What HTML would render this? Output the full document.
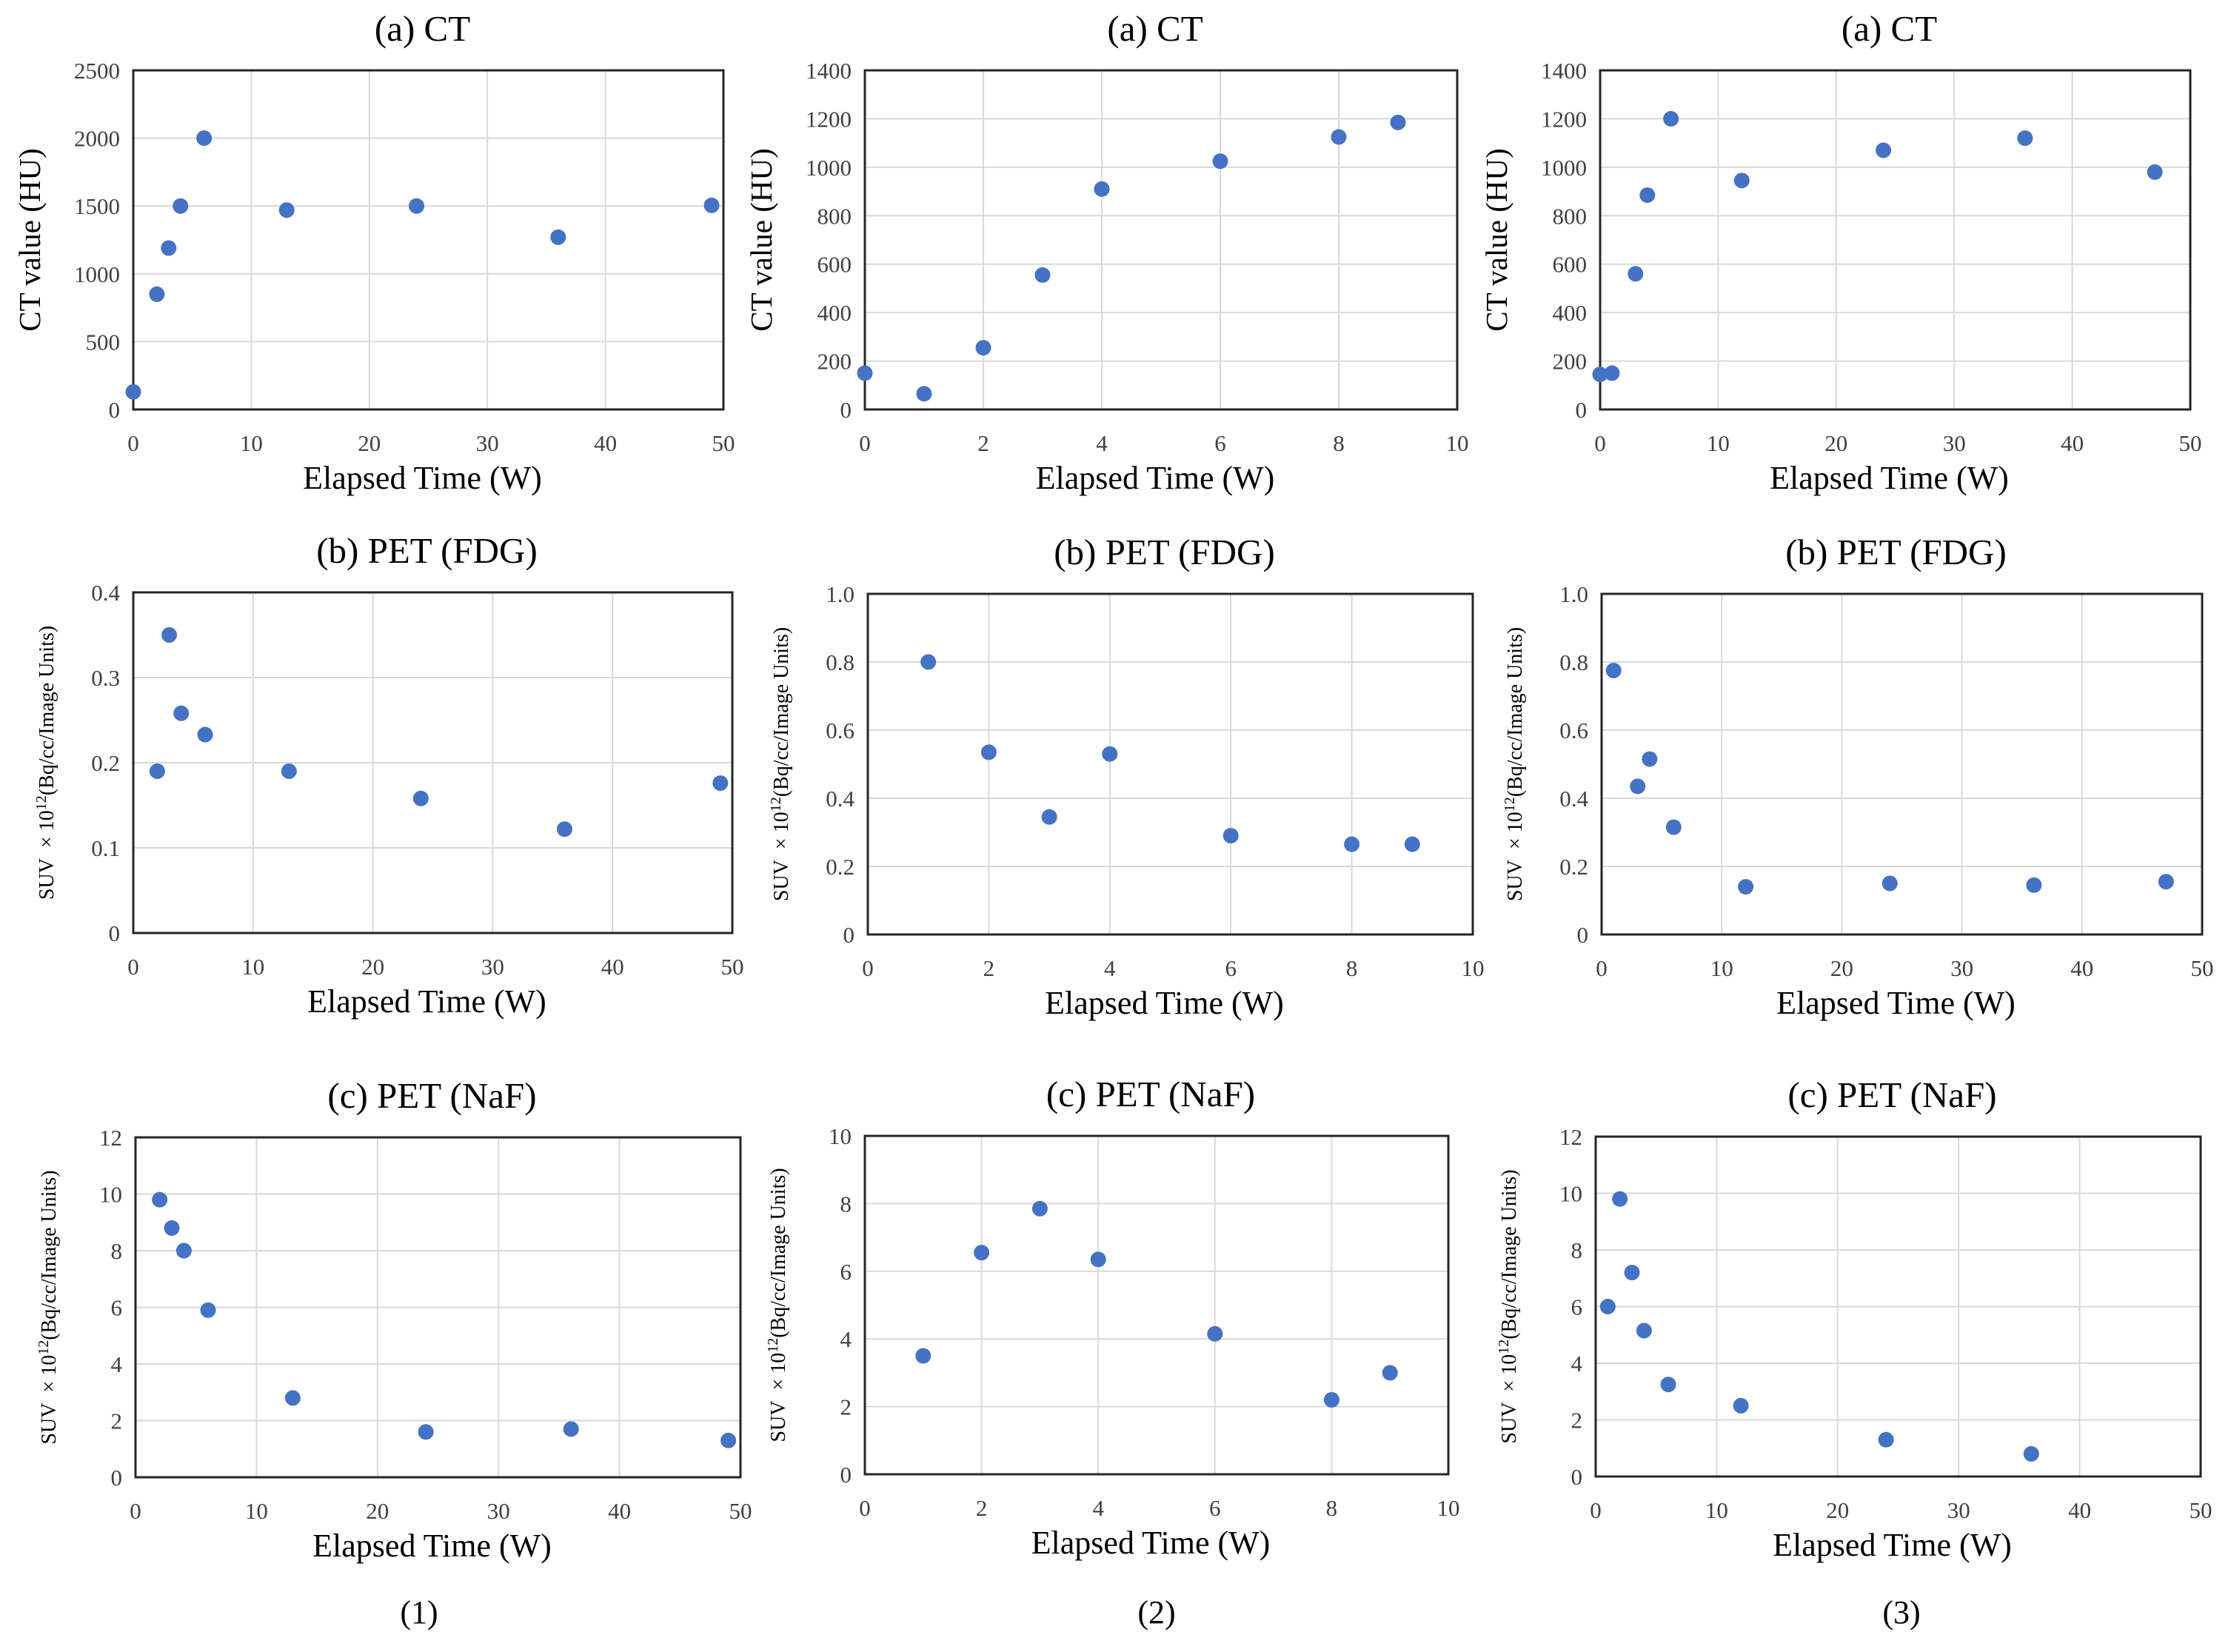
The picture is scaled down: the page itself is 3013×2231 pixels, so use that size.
<!DOCTYPE html>
<html><head><meta charset="utf-8"><style>
html,body{margin:0;padding:0;background:#fff;}
svg{display:block;font-family:"Liberation Serif",serif;}
</style></head><body>
<svg id="fig" width="3013" height="2231" viewBox="0 0 3013 2231" xmlns="http://www.w3.org/2000/svg"></svg>
<script>
const p1X=[0,2,3,4,6,13,24,36,49];
const p1Y=[130,850,1190,1500,2000,1470,1500,1270,1505];
const p2X=[0,1,2,3,4,6,8,9];
const p2Y=[150,65,255,555,910,1025,1125,1185];
const p3X=[0,1,3,4,6,12,24,36,47];
const p3Y=[145,150,560,885,1200,945,1070,1120,980];
const p4X=[2,3,4,6,13,24,36,49];
const p4Y=[0.19,0.35,0.258,0.233,0.19,0.158,0.122,0.176];
const p5X=[1,2,3,4,6,8,9];
const p5Y=[0.80,0.535,0.345,0.53,0.29,0.265,0.265];
const p6X=[1,3,4,6,12,24,36,47];
const p6Y=[0.775,0.435,0.515,0.315,0.14,0.15,0.145,0.155];
const p7X=[2,3,4,6,13,24,36,49];
const p7Y=[9.8,8.8,8.0,5.9,2.8,1.6,1.7,1.3];
const p8X=[1,2,3,4,6,8,9];
const p8Y=[3.5,6.55,7.85,6.35,4.15,2.2,3.0];
const p9X=[1,2,3,4,6,12,24,36];
const p9Y=[6.0,9.8,7.2,5.15,3.25,2.5,1.3,0.8];
const xTicks50=["0","10","20","30","40","50"];
const xTicks10=["0","2","4","6","8","10"];
const yTicksCT1=["0","500","1000","1500","2000","2500"];
const yTicksCT2=["0","200","400","600","800","1000","1200","1400"];
const yTicksFDG1=["0","0.1","0.2","0.3","0.4"];
const yTicksFDG2=["0","0.2","0.4","0.6","0.8","1.0"];
const yTicksNaF12=["0","2","4","6","8","10","12"];
const yTicksNaF10=["0","2","4","6","8","10"];

const NS="http://www.w3.org/2000/svg";
const svg=document.getElementById('fig');
function mk(tag,attrs,parent){const e=document.createElementNS(NS,tag);for(const k in attrs)e.setAttribute(k,attrs[k]);(parent||svg).appendChild(e);return e;}

const panels=[
 {id:'ct-1',box:[180,95,977,553],xs:p1X,ys:p1Y,xt:xTicks50,yt:yTicksCT1,title:'(a) CT',yl:'ct'},
 {id:'ct-2',box:[1168,95,1968,553],xs:p2X,ys:p2Y,xt:xTicks10,yt:yTicksCT2,title:'(a) CT',yl:'ct'},
 {id:'ct-3',box:[2161,95,2958,553],xs:p3X,ys:p3Y,xt:xTicks50,yt:yTicksCT2,title:'(a) CT',yl:'ct'},
 {id:'fdg-1',box:[180,800,989,1260],xs:p4X,ys:p4Y,xt:xTicks50,yt:yTicksFDG1,title:'(b) PET (FDG)',yl:'suv'},
 {id:'fdg-2',box:[1172,802,1989,1262],xs:p5X,ys:p5Y,xt:xTicks10,yt:yTicksFDG2,title:'(b) PET (FDG)',yl:'suv'},
 {id:'fdg-3',box:[2163,802,2974,1262],xs:p6X,ys:p6Y,xt:xTicks50,yt:yTicksFDG2,title:'(b) PET (FDG)',yl:'suv'},
 {id:'naf-1',box:[183,1536,1000,1995],xs:p7X,ys:p7Y,xt:xTicks50,yt:yTicksNaF12,title:'(c) PET (NaF)',yl:'suv'},
 {id:'naf-2',box:[1168,1534,1956,1991],xs:p8X,ys:p8Y,xt:xTicks10,yt:yTicksNaF10,title:'(c) PET (NaF)',yl:'suv'},
 {id:'naf-3',box:[2155,1535,2972,1994],xs:p9X,ys:p9Y,xt:xTicks50,yt:yTicksNaF12,title:'(c) PET (NaF)',yl:'suv'}
];

panels.forEach(p=>{
 const [L,T,R,B]=p.box;
 const g=mk('g',{});
 
 
 const xmax=parseFloat(p.xt[p.xt.length-1]), ymax=parseFloat(p.yt[p.yt.length-1]);
 const sx=v=>L+(v/xmax)*(R-L);
 const sy=v=>B-(v/ymax)*(B-T);
 p.xt.forEach((t,i)=>{ if(i>0&&i<p.xt.length-1){const x=sx(parseFloat(t));
   const l=mk('line',{x1:x,y1:T,x2:x,y2:B,stroke:'#d9d9d9','stroke-width':2},g);
   
   }});
 p.yt.forEach((t,i)=>{ if(i>0&&i<p.yt.length-1){const y=sy(parseFloat(t));
   const l=mk('line',{x1:L,y1:y,x2:R,y2:y,stroke:'#d9d9d9','stroke-width':2},g);
   
   }});
 const fr=mk('rect',{x:L,y:T,width:R-L,height:B-T,fill:'none',stroke:'#262626','stroke-width':3},g);
 
 
 p.xt.forEach(t=>{const e=mk('text',{x:sx(parseFloat(t)),y:B+56,'text-anchor':'middle','font-size':31,fill:'#404040'},g);e.textContent=t;
   
   });
 p.yt.forEach(t=>{const e=mk('text',{x:L-18,y:sy(parseFloat(t))+11,'text-anchor':'end','font-size':31,fill:'#404040'},g);e.textContent=t;
   
   });
 const cx=(L+R)/2;
 const ti=mk('text',{x:cx-8,y:T-40,'text-anchor':'middle','font-size':49,fill:'#000'},g);ti.textContent=p.title;
 
 
 const xl=mk('text',{x:cx-8,y:B+107,'text-anchor':'middle','font-size':44,fill:'#000'},g);xl.textContent='Elapsed Time (W)';
 
 
 if(p.yl==='ct'){
   const yx=L-126, yy=(T+B)/2;
   const yt=mk('text',{x:yx,y:yy,'text-anchor':'middle','font-size':41,fill:'#000',transform:`rotate(-90 ${yx} ${yy})`},g);yt.textContent='CT value (HU)';
   
   
 } else {
   const yx=L-108, yy=(T+B)/2;
   const yt=mk('text',{x:yx,y:yy,'text-anchor':'middle','font-size':28,fill:'#000',transform:`rotate(-90 ${yx} ${yy})`},g);
   
   
   const a=mk('tspan',{},yt);a.textContent='SUV\u00a0\u00a0\u00d7 10';
   const b=mk('tspan',{dy:-10,'font-size':20},yt);b.textContent='12';
   const c=mk('tspan',{dy:10},yt);c.textContent='(Bq/cc/Image Units)';
 }
 p.xs.forEach((xv,i)=>{
   const d=mk('circle',{cx:sx(xv),cy:sy(p.ys[i]),r:10.5,fill:'#4472C4'},g);
   
   
 });
});
[['(1)',566],['(2)',1562],['(3)',2568]].forEach(([t,x])=>{
 const e=mk('text',{x:x,y:2192,'text-anchor':'middle','font-size':44,fill:'#000'});e.textContent=t;
 
 
});
</script>
</body></html>
